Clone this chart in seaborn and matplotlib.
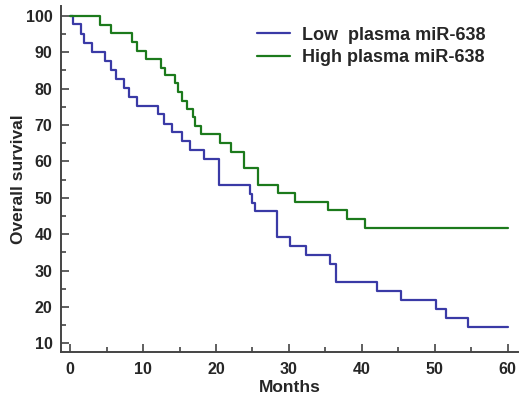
import seaborn as sns
import matplotlib.pyplot as plt
import pandas as pd
from matplotlib.ticker import MultipleLocator

# Kaplan-Meier step points
low_months = [0, 0.45, 1.55, 1.9, 3.05, 4.75, 5.6, 6.25, 7.4, 8.0, 9.1, 12.05, 12.8, 14.0,
              15.4, 16.4, 18.4, 20.4, 24.7, 25.0, 25.4, 28.4, 30.2, 32.4, 35.6, 36.4,
              42.1, 45.4, 50.2, 51.5, 54.6, 60]
low_surv = [100, 97.7, 95.0, 92.6, 90.1, 87.5, 85.1, 82.7, 80.1, 77.7, 75.3, 72.9, 70.4, 68.0,
            65.5, 63.1, 60.6, 53.5, 51.1, 48.7, 46.3, 39.1, 36.7, 34.2, 31.7, 26.8,
            24.4, 22.0, 19.4, 17.1, 14.5, 14.5]

high_months = [0, 4.07, 5.6, 8.5, 9.1, 10.45, 12.4, 13.0, 14.4, 14.8, 15.4, 16.0, 16.9, 17.1,
               18.0, 20.5, 22.0, 23.9, 25.8, 28.5, 30.8, 35.3, 38.0, 40.4, 60]
high_surv = [100, 97.6, 95.2, 92.8, 90.3, 88.1, 85.7, 83.6, 81.4, 79.1, 76.6, 74.3, 72.1, 69.8,
             67.5, 65.0, 62.6, 58.1, 53.4, 51.2, 48.9, 46.6, 44.3, 41.7, 41.7]

groups = ["Low  plasma miR-638", "High plasma miR-638"]
colors = ["#3a3aa6", "#1c7a1c"]

df = pd.concat([
    pd.DataFrame({"Months": low_months, "Survival": low_surv, "group": groups[0]}),
    pd.DataFrame({"Months": high_months, "Survival": high_surv, "group": groups[1]}),
])

sns.set_style("ticks")
plt.rcParams["font.family"] = ["Liberation Sans", "DejaVu Sans"]
plt.rcParams["font.weight"] = "bold"

fig = plt.figure(figsize=(5.2, 3.97), dpi=100)
ax = fig.add_axes([0.117, 0.113, 0.879, 0.872])

sns.lineplot(data=df, x="Months", y="Survival", hue="group", palette=colors,
             drawstyle="steps-post", estimator=None, linewidth=1.6, ax=ax)

ax.set_xlim(-1.28, 61.4)
ax.set_ylim(7.6, 102.7)
ax.xaxis.set_major_locator(MultipleLocator(10))
ax.xaxis.set_minor_locator(MultipleLocator(5))
ax.yaxis.set_major_locator(MultipleLocator(10))
ax.yaxis.set_minor_locator(MultipleLocator(5))
ax.set_yticks(range(10, 101, 10))
ax.tick_params(which="major", direction="in", length=6, width=1.2, color="#444444",
               labelsize=11.5, pad=6)
ax.tick_params(axis="x", which="major", pad=7)
ax.tick_params(which="minor", direction="in", length=3.5, width=1.2, color="#444444")
for lab in ax.get_xticklabels() + ax.get_yticklabels():
    lab.set_fontweight("bold")

sns.despine(ax=ax)
for s in ["left", "bottom"]:
    ax.spines[s].set_linewidth(1.4)
    ax.spines[s].set_color("#444444")

ax.set_xlabel("Months", fontsize=12.5, fontweight="bold", labelpad=2)
ax.set_ylabel("Overall survival", fontsize=12.5, fontweight="bold", labelpad=0)

ax.legend(title=None, frameon=False, fontsize=13, loc="upper left",
          bbox_to_anchor=(0.4937, 0.933), bbox_transform=fig.transFigure,
          handlelength=1.85, handletextpad=0.65, labelspacing=0.3,
          borderpad=0, borderaxespad=0)

fig.savefig("out.png", dpi=100)
